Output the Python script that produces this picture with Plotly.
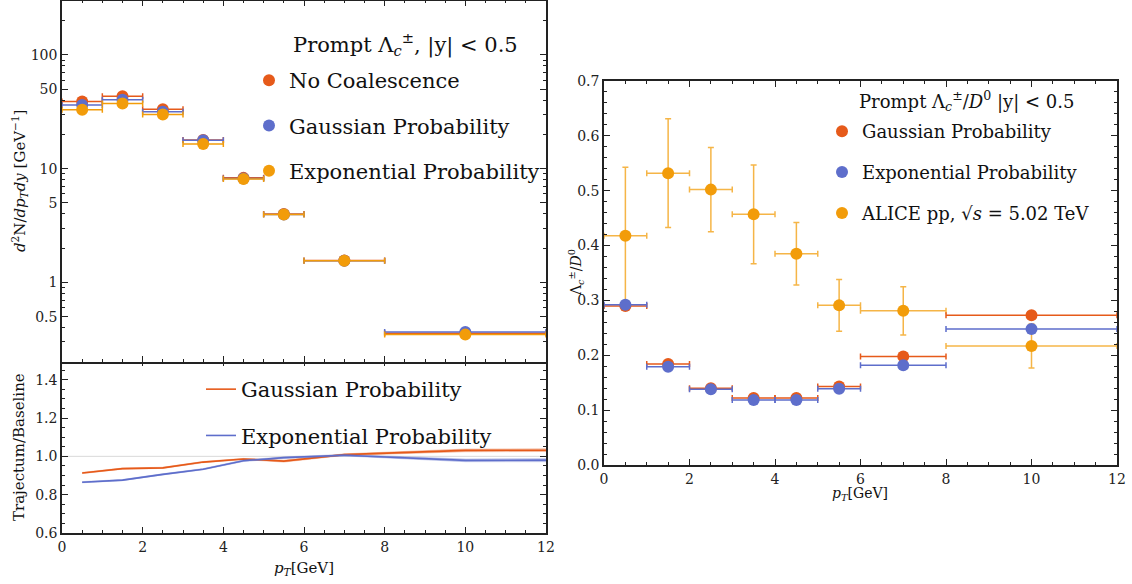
import math
import plotly.graph_objects as go

# ---------------- data ----------------
bin_lo = [0, 1, 2, 3, 4, 5, 6, 8]
bin_hi = [1, 2, 3, 4, 5, 6, 8, 12]
pt = [0.5, 1.5, 2.5, 3.5, 4.5, 5.5, 7, 10]

# top-left: prompt Lambda_c yields d2N/dpT dy
yield_no_coal = [39.0, 43.2, 33.2, 17.9, 8.3, 4.0, 1.56, 0.357]
yield_gauss = [36.3, 40.4, 31.6, 17.8, 8.2, 3.95, 1.55, 0.367]
yield_expo = [33.0, 37.3, 29.9, 16.5, 8.1, 3.95, 1.55, 0.348]

# bottom-left: Trajectum / Baseline ratio
ratio_pt = [0.5, 1.5, 2.5, 3.5, 4.5, 5.5, 7, 10, 12]
ratio_gauss = [0.913, 0.936, 0.940, 0.970, 0.986, 0.975, 1.009, 1.031, 1.032]
ratio_gauss_hw = [0.003, 0.003, 0.003, 0.003, 0.003, 0.005, 0.004, 0.007, 0.007]
ratio_expo = [0.865, 0.876, 0.906, 0.933, 0.977, 0.993, 1.006, 0.979, 0.980]
ratio_expo_hw = [0.003, 0.003, 0.003, 0.003, 0.004, 0.004, 0.004, 0.007, 0.008]
ratio_reference = 1.0

# right: Lambda_c / D0
lcd0_gauss = [0.290, 0.184, 0.140, 0.122, 0.122, 0.143, 0.198, 0.273]
lcd0_expo = [0.292, 0.179, 0.138, 0.1185, 0.1185, 0.139, 0.182, 0.248]
lcd0_alice = [0.418, 0.532, 0.502, 0.457, 0.385, 0.291, 0.281, 0.217]
lcd0_alice_err = [0.125, 0.099, 0.077, 0.090, 0.057, 0.047, 0.044, 0.040]

# ---------------- style ----------------
RED = "#E65A1A"
BLUE = "#5E6ECB"
ORANGE = "#F29C0A"
ORANGE_ERR = "rgba(242,156,10,0.75)"
FONT = "DejaVu Serif"
W, H = 1132, 584

err_plus = [h - p for h, p in zip(bin_hi, pt)]
err_minus = [p - l for p, l in zip(pt, bin_lo)]

fig = go.Figure()


def xerr(color):
    return dict(type="data", symmetric=False, array=err_plus, arrayminus=err_minus,
                color=color, thickness=1.5, width=3)


# top-left yields
for name, vals, col in [("No Coalescence", yield_no_coal, RED),
                        ("Gaussian Probability", yield_gauss, BLUE),
                        ("Exponential Probability", yield_expo, ORANGE)]:
    fig.add_trace(go.Scatter(
        x=pt, y=vals, mode="markers", name=name, xaxis="x2", yaxis="y2",
        marker=dict(color=col, size=12), error_x=xerr(col),
        legend="legend", legendgroup=name, showlegend=True))

# bottom-left ratio bands
for name, vals, hw, col, fillc in [
        ("Gaussian Probability", ratio_gauss, ratio_gauss_hw, RED, "rgba(230,90,26,0.30)"),
        ("Exponential Probability", ratio_expo, ratio_expo_hw, BLUE, "rgba(94,110,203,0.30)")]:
    lo = [v - h for v, h in zip(vals, hw)]
    hi = [v + h for v, h in zip(vals, hw)]
    fig.add_trace(go.Scatter(x=ratio_pt, y=lo, mode="lines", xaxis="x", yaxis="y",
                             line=dict(color=fillc, width=1), showlegend=False, hoverinfo="skip"))
    fig.add_trace(go.Scatter(x=ratio_pt, y=hi, mode="lines", xaxis="x", yaxis="y",
                             line=dict(color=fillc, width=1), fill="tonexty", fillcolor=fillc,
                             showlegend=False, hoverinfo="skip"))
    fig.add_trace(go.Scatter(x=ratio_pt, y=vals, mode="lines", name=name, xaxis="x", yaxis="y",
                             line=dict(color=col, width=1.6), legend="legend2",
                             legendgroup="r" + name, showlegend=True))

# right panel
fig.add_trace(go.Scatter(
    x=pt, y=lcd0_alice, mode="markers", name="ALICE pp, √<i>s</i> = 5.02 TeV",
    xaxis="x3", yaxis="y3", marker=dict(color=ORANGE, size=12),
    error_x=xerr(ORANGE_ERR),
    error_y=dict(type="data", array=lcd0_alice_err, color=ORANGE_ERR, thickness=1.5, width=3),
    legend="legend3", legendgroup="alice", legendrank=3))
fig.add_trace(go.Scatter(
    x=pt, y=lcd0_gauss, mode="markers", name="Gaussian Probability",
    xaxis="x3", yaxis="y3", marker=dict(color=RED, size=12), error_x=xerr(RED),
    legend="legend3", legendgroup="g3", legendrank=1))
fig.add_trace(go.Scatter(
    x=pt, y=lcd0_expo, mode="markers", name="Exponential Probability",
    xaxis="x3", yaxis="y3", marker=dict(color=BLUE, size=12), error_x=xerr(BLUE),
    legend="legend3", legendgroup="e3", legendrank=2))

# reference line at 1 in ratio panel
fig.add_shape(type="line", xref="x domain", yref="y", x0=0, x1=1,
              y0=ratio_reference, y1=ratio_reference,
              line=dict(color="#d9d9d9", width=1), layer="below")

LX = [62 / W, 546 / W]
RX = [604 / W, 1117 / W]

axis_common = dict(showline=True, linecolor="#222", linewidth=1.5, mirror="allticks",
                   ticks="inside", ticklen=6, tickwidth=1, tickcolor="#222",
                   showgrid=False, zeroline=False, automargin=False,
                   tickfont=dict(family=FONT, size=14, color="#222"))

fig.update_layout(
    template="none",
    width=W, height=H, margin=dict(l=0, r=0, t=0, b=0, pad=0), autosize=False,
    paper_bgcolor="white", plot_bgcolor="white",
    font=dict(family=FONT, color="#111"),
    xaxis=dict(domain=LX, anchor="y", range=[0, 12], dtick=2,
               minor=dict(dtick=0.5, ticks="inside", ticklen=3, tickcolor="#222"),
               **axis_common),
    yaxis=dict(domain=[1 - 533 / H, 1 - 360.5 / H], anchor="x", range=[0.6, 1.5],
               tickvals=[0.6, 0.8, 1.0, 1.2, 1.4], tickformat=".1f",
               minor=dict(dtick=0.05, ticks="inside", ticklen=3, tickcolor="#222"),
               **axis_common),
    xaxis2=dict(domain=LX, anchor="y2", range=[0, 12], dtick=2, matches="x",
                showticklabels=False,
                minor=dict(dtick=0.5, ticks="inside", ticklen=3, tickcolor="#222"),
                **axis_common),
    yaxis2=dict(domain=[1 - 362 / H, 0.999], anchor="x2", type="log",
                range=[math.log10(0.2), math.log10(300)],
                tickvals=[0.5, 1, 5, 10, 50, 100],
                ticktext=["0.5", "1", "5", "10", "50", "100"],
                minor=dict(tickmode="array",
                           tickvals=[0.2, 0.3, 0.4, 0.6, 0.7, 0.8, 0.9, 2, 3, 4, 6, 7, 8, 9,
                                     20, 30, 40, 60, 70, 80, 90, 200, 300],
                           ticks="inside", ticklen=3, tickcolor="#222"),
                **axis_common),
    xaxis3=dict(domain=RX, anchor="y3", range=[0, 12], dtick=2,
                minor=dict(dtick=0.5, ticks="inside", ticklen=3, tickcolor="#222"),
                **axis_common),
    yaxis3=dict(domain=[1 - 465 / H, 1 - 81 / H], anchor="x3", range=[0, 0.7],
                dtick=0.1, tickformat=".1f",
                minor=dict(dtick=0.02, ticks="inside", ticklen=3, tickcolor="#222"),
                **axis_common),
    legend=dict(x=249 / W, y=1 - 60 / H, xanchor="left", yanchor="top",
                bgcolor="rgba(0,0,0,0)", font=dict(family=FONT, size=21, color="#111"),
                tracegroupgap=15, itemclick=False),
    legend2=dict(x=201 / W, y=1 - 369 / H, xanchor="left", yanchor="top",
                 bgcolor="rgba(0,0,0,0)", font=dict(family=FONT, size=21, color="#111"),
                 tracegroupgap=16, itemwidth=30),
    legend3=dict(x=822 / W, y=1 - 113 / H, xanchor="left", yanchor="top",
                 bgcolor="rgba(0,0,0,0)", font=dict(family=FONT, size=18, color="#111"),
                 tracegroupgap=14.5),
)

ann = [
    dict(text="Prompt Λ<sub><i>c</i></sub><sup>±</sup>, |y| &lt; 0.5", x=291 / W, y=1 - 44 / H,
         xanchor="left", yanchor="middle", font=dict(size=21)),
    dict(text="Prompt Λ<sub><i>c</i></sub><sup>±</sup>/<i>D</i><sup>0</sup> |y| &lt; 0.5",
         x=857 / W, y=1 - 101 / H, xanchor="left", yanchor="middle", font=dict(size=18)),
    dict(text="<i>d</i><sup>2</sup>N/<i>dp</i><sub><i>T</i></sub><i>dy</i> [GeV<sup>−1</sup>]",
         x=19 / W, y=1 - 181 / H, textangle=-90, xanchor="center", yanchor="middle",
         font=dict(size=15)),
    dict(text="Trajectum/Baseline", x=19 / W, y=1 - 447 / H, textangle=-90,
         xanchor="center", yanchor="middle", font=dict(size=15)),
    dict(text="<i>p</i><sub><i>T</i></sub>[GeV]", x=304 / W, y=1 - 568 / H,
         xanchor="center", yanchor="middle", font=dict(size=15)),
    dict(text="Λ<sub><i>c</i></sub><sup>±</sup>/<i>D</i><sup>0</sup>", x=576 / W, y=1 - 273 / H,
         textangle=-90, xanchor="center", yanchor="middle", font=dict(size=14)),
    dict(text="<i>p</i><sub><i>T</i></sub>[GeV]", x=860 / W, y=1 - 494 / H,
         xanchor="center", yanchor="middle", font=dict(size=14)),
]
for a in ann:
    a.update(xref="paper", yref="paper", showarrow=False)
    a["font"] = dict(family=FONT, color="#111", **a["font"])
fig.update_layout(annotations=ann)

fig.write_html(
    "out.html",
    config={"displayModeBar": False},
    post_script="document.body.style.margin='0';document.body.style.overflow='hidden';",
)
